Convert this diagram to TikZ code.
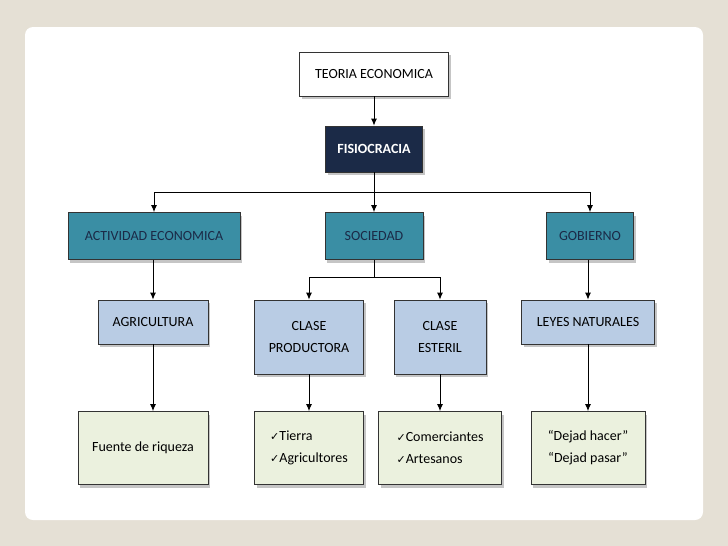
\documentclass[tikz,border=0pt]{standalone}
\usepackage{fontspec}
\setmainfont{Carlito}
\newfontfamily\symf{DejaVu Sans}
\newcommand{\chk}{{\symf\fontsize{11}{11}\selectfont ✓}}
\usetikzlibrary{arrows.meta,shadows}
\definecolor{bgc}{HTML}{E5E0D5}
\definecolor{navy}{HTML}{1B2A47}
\definecolor{teal}{HTML}{3A8EA4}
\definecolor{lblue}{HTML}{B9CCE4}
\definecolor{lgreen}{HTML}{EBF1DE}
\tikzset{
  box/.style={draw=black!80,line width=0.8pt,minimum height=44pt,align=center,inner sep=2pt,font=\fontsize{14}{22}\selectfont,
    drop shadow={shadow xshift=2pt,shadow yshift=-3pt,fill=black!45}},
  arr/.style={-{Latex[length=7pt,width=6pt]},line width=0.9pt},
  ln/.style={line width=0.9pt}
}
\begin{document}
\begin{tikzpicture}[x=1pt,y=-1pt]
\useasboundingbox (0,0) rectangle (728,546);
\fill[bgc] (0,0) rectangle (728,546);
\fill[white,rounded corners=8pt] (25,27) rectangle (703,520);
\node[box,fill=white,minimum width=149pt] (teo) at (374,74) {TEORIA ECONOMICA};
\node[box,fill=navy,text=white,minimum width=97pt,minimum height=46pt] (fis) at (374,149) {\bfseries FISIOCRACIA};
\node[box,fill=teal,text=navy,minimum width=172pt,minimum height=47pt] (act) at (154,236) {ACTIVIDAD ECONOMICA};
\node[box,fill=teal,text=navy,minimum width=98pt,minimum height=47pt] (soc) at (374,236) {SOCIEDAD};
\node[box,fill=teal,text=navy,minimum width=87pt,minimum height=47pt] (gob) at (590,236) {GOBIERNO};
\node[box,fill=lblue,minimum width=110pt] (agr) at (153,322) {AGRICULTURA};
\node[box,fill=lblue,minimum width=109pt,minimum height=74pt] (cp) at (309,337) {CLASE\\PRODUCTORA};
\node[box,fill=lblue,minimum width=92pt,minimum height=74pt] (ce) at (440,337) {CLASE\\ESTERIL};
\node[box,fill=lblue,minimum width=133pt] (ley) at (588,322) {LEYES NATURALES};
\node[box,fill=lgreen,minimum width=130pt,minimum height=73pt] (fue) at (143,448) {Fuente de riqueza};
\node[box,fill=lgreen,minimum width=109pt,minimum height=73pt,align=left] (tie) at (309,448) {\chk Tierra\\\chk Agricultores};
\node[box,fill=lgreen,minimum width=123pt,minimum height=73pt,align=left] (com) at (440,448) {\chk Comerciantes\\\chk Artesanos};
\node[box,fill=lgreen,minimum width=114pt,minimum height=73pt] (dej) at (588,448) {“Dejad hacer”\\“Dejad pasar”};
\draw[arr] (teo) -- (fis);
\coordinate (b) at (374,192);
\draw[ln] (fis.south) -- (b);
\draw[ln] (act.north |- b) -- (gob.north |- b);
\draw[arr] (act.north |- b) -- (act.north);
\draw[arr] (b) -- (soc.north);
\draw[arr] (gob.north |- b) -- (gob.north);
\draw[arr] (act.south -| agr.north) -- (agr.north);
\coordinate (sb) at (374,277);
\draw[ln] (soc.south) -- (sb);
\draw[ln] (cp.north |- sb) -- (ce.north |- sb);
\draw[arr] (cp.north |- sb) -- (cp.north);
\draw[arr] (ce.north |- sb) -- (ce.north);
\draw[arr] (gob.south -| ley.north) -- (ley.north);
\draw[arr] (agr.south) -- (agr.south |- fue.north);
\draw[arr] (cp) -- (tie);
\draw[arr] (ce) -- (com);
\draw[arr] (ley) -- (dej);
\end{tikzpicture}
\end{document}
